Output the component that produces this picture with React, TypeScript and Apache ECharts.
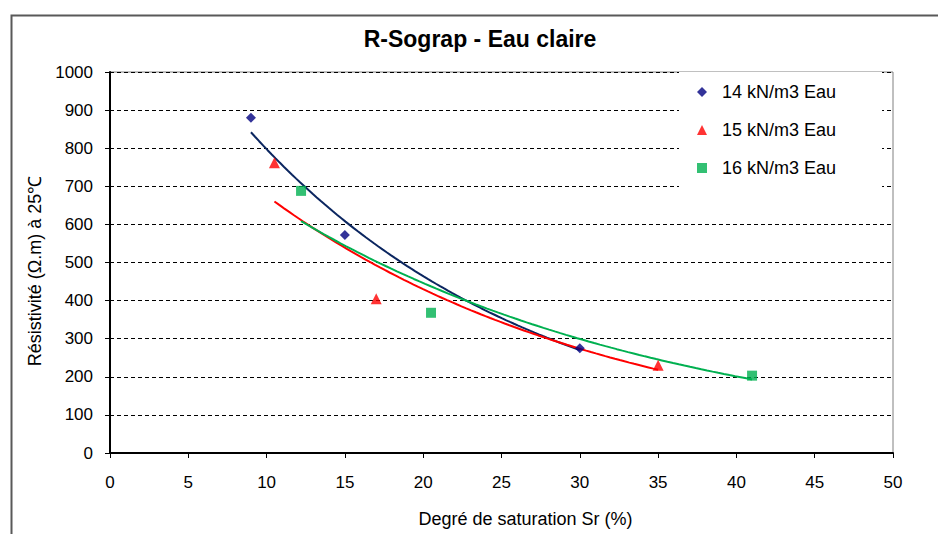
import React, { useEffect, useRef } from "react";
import * as echarts from "echarts";

const seriesNames = ["14 kN/m3 Eau", "15 kN/m3 Eau", "16 kN/m3 Eau"];
const x14 = [9, 15, 30];
const y14 = [880, 572, 275];
const x15 = [10.5, 17, 35];
const y15 = [762, 405, 230];
const x16 = [12.2, 20.5, 41];
const y16 = [688, 368, 203];

const markerColors = ["#000080", "#ff0000", "#00b050"];
const trendColors = ["#0b2660", "#ff0000", "#00b050"];
const symbols = ["diamond", "triangle", "rect"];
const symbolSizes = [10, 11, 10];

// Exponential trendline (least squares on ln y), as a spreadsheet would draw it
function expTrend(xs: number[], ys: number[]) {
  const n = xs.length;
  const ly = ys.map((v) => Math.log(v));
  const mx = xs.reduce((a, b) => a + b, 0) / n;
  const my = ly.reduce((a, b) => a + b, 0) / n;
  let sxy = 0;
  let sxx = 0;
  for (let i = 0; i < n; i++) {
    sxy += (xs[i] - mx) * (ly[i] - my);
    sxx += (xs[i] - mx) * (xs[i] - mx);
  }
  const b = sxy / sxx;
  const a = Math.exp(my - b * mx);
  const x0 = Math.min(...xs);
  const x1 = Math.max(...xs);
  const pts: number[][] = [];
  const N = 80;
  for (let i = 0; i <= N; i++) {
    const x = x0 + ((x1 - x0) * i) / N;
    pts.push([x, a * Math.exp(b * x)]);
  }
  return pts;
}

const FONT = "'Liberation Sans', Arial, sans-serif";

export default function App() {
  const ref = useRef<HTMLDivElement>(null);
  useEffect(() => {
    if (!ref.current) return;
    const chart = echarts.init(ref.current, undefined, { renderer: "svg" });
    const groups = [
      [x14, y14],
      [x15, y15],
      [x16, y16],
    ];
    const scatterSeries = groups.map(([xs, ys], i) => ({
      name: seriesNames[i],
      type: "scatter",
      symbol: symbols[i],
      symbolSize: symbolSizes[i],
      itemStyle: { color: markerColors[i] },
      data: xs.map((x, j) => [x, ys[j]]),
      z: 5,
    }));
    const trendSeries = groups.map(([xs, ys], i) => ({
      name: "trend" + i,
      type: "line",
      showSymbol: false,
      symbol: "none",
      lineStyle: { color: trendColors[i], width: 2 },
      data: expTrend(xs, ys),
      z: 3,
    }));
    chart.setOption({
      animation: false,
      backgroundColor: "#ffffff",
      textStyle: { fontFamily: FONT },
      title: {
        text: "R-Sograp - Eau claire",
        left: 480,
        top: 27,
        padding: 0,
        textAlign: "center",
        textStyle: { fontFamily: FONT, fontSize: 23, fontWeight: "bold", color: "#000" },
      },
      graphic: [
        {
          type: "rect",
          left: 9,
          top: 13,
          shape: { width: 980, height: 580 },
          style: { fill: "none", stroke: "#595959", lineWidth: 2 },
          silent: true,
        },
      ],
      legend: {
        orient: "vertical",
        left: 679,
        top: 72,
        padding: [11, 46, 20, 18],
        backgroundColor: "#ffffff",
        itemWidth: 10,
        itemHeight: 10,
        itemGap: 20,
        textStyle: { fontFamily: FONT, fontSize: 18, color: "#000", padding: [0, 0, 0, 10] },
        data: seriesNames.map((n, i) => ({ name: n, icon: symbols[i] })),
      },
      grid: {
        left: 110,
        right: 45,
        top: 72,
        bottom: 81,
        show: true,
        borderColor: "#808080",
        borderWidth: 1,
        backgroundColor: "transparent",
      },
      xAxis: {
        type: "value",
        min: 0,
        max: 50,
        interval: 5,
        name: "Degré de saturation Sr (%)",
        nameLocation: "middle",
        nameGap: 57,
        nameTextStyle: { fontFamily: FONT, fontSize: 18, color: "#000", padding: [0, 0, 0, 48] },
        axisLine: { show: true, onZero: false, lineStyle: { color: "#000", width: 2 } },
        axisTick: { show: true, length: 5, inside: false, lineStyle: { color: "#000" } },
        axisLabel: { fontFamily: FONT, fontSize: 17, color: "#000", margin: 21 },
        splitLine: { show: false },
      },
      yAxis: {
        type: "value",
        min: 0,
        max: 1000,
        interval: 100,
        name: "Résistivité (Ω.m) à 25℃",
        nameLocation: "middle",
        nameGap: 59,
        nameTextStyle: { fontFamily: FONT, fontSize: 18, color: "#000", padding: [0, 17, 0, 0] },
        axisLine: { show: true, lineStyle: { color: "#000", width: 2 } },
        axisTick: { show: true, length: 5, inside: false, lineStyle: { color: "#000" } },
        axisLabel: {
          fontFamily: FONT,
          fontSize: 17,
          color: "#000",
          margin: 17,
          formatter: (v: number) => String(v),
        },
        splitLine: { show: true, lineStyle: { color: "#000", type: [4, 3], width: 1 } },
      },
      series: [...trendSeries, ...scatterSeries],
    });
    return () => chart.dispose();
  }, []);
  return (
    <div
      ref={ref}
      style={{ position: "fixed", left: 0, top: 0, width: 938, height: 534, background: "#fff" }}
    />
  );
}
